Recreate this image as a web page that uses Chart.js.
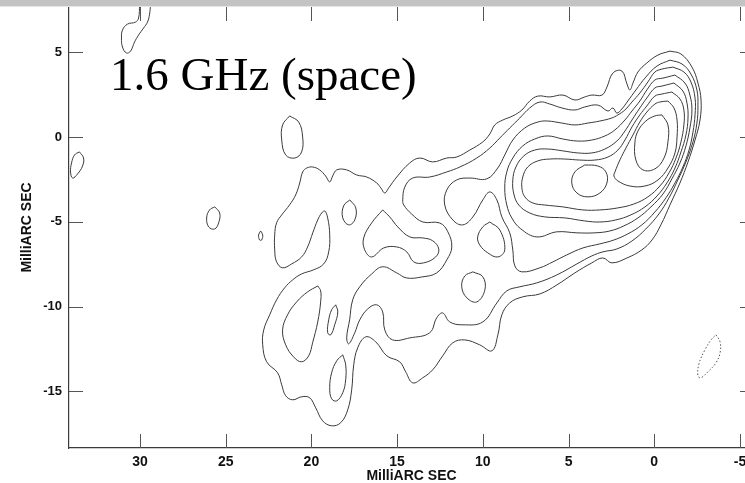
<!DOCTYPE html>
<html>
<head>
<meta charset="utf-8">
<script src="https://cdn.jsdelivr.net/npm/chart.js@4.4.1/dist/chart.umd.min.js"></script>
<style>
  html, body { margin: 0; padding: 0; background: #fff; overflow: hidden; }
  #wrap { position: relative; width: 760px; height: 483px; }
</style>
</head>
<body>
<div id="wrap"><canvas id="map" width="760" height="483"></canvas></div>
<script>
// axis extents (milliarcsec); RA runs right-to-left
const xMin = -5.82, xMax = 34.14;
const yMin = -18.33, yMax = 7.66;
const xTickValues = [30, 25, 20, 15, 10, 5, 0, -5];
const yTickValues = [5, 0, -5, -10, -15];
const axisTitle = 'MilliARC SEC';
const mapLabel = '1.6 GHz (space)';

// contour paths, [RA offset, Dec offset] in mas
const outerContour = [[-0.92,5.06],[-0.22,4.83],[0.43,4.36],[0.95,3.83],[1.24,3.18],[1.42,2.77],[1.59,3.12],[1.89,3.89],[2.41,3.77],[2.76,2.94],[3.05,2.47],[3.64,2.47],[4.05,2.36],[4.63,2.18],[5.33,2.47],[6.09,2.36],[6.79,2.41],[7.26,2.12],[7.72,1.59],[8.25,1.24],[8.83,1.0],[9.30,0.71],[9.59,0.18],[10.0,-0.29],[10.76,-0.77],[11.52,-1.18],[12.10,-1.24],[12.92,-1.47],[13.68,-1.24],[14.26,-1.53],[15.02,-2.36],[15.49,-3.0],[15.72,-3.30],[15.95,-3.0],[16.19,-2.71],[16.77,-2.36],[17.36,-2.24],[17.94,-1.94],[18.52,-1.94],[18.76,-2.30],[18.93,-2.65],[19.17,-2.30],[19.52,-1.94],[19.92,-1.77],[20.27,-1.83],[20.51,-2.06],[20.68,-2.71],[20.92,-3.42],[21.27,-4.0],[21.73,-4.59],[22.03,-5.06],[22.14,-5.77],[22.14,-6.65],[22.03,-7.36],[21.68,-7.71],[21.15,-7.48],[20.57,-7.07],[20.22,-6.48],[19.92,-5.65],[19.63,-4.89],[19.40,-4.48],[19.22,-4.36],[19.05,-4.77],[18.93,-5.77],[18.99,-6.77],[19.28,-7.48],[19.87,-7.83],[20.57,-8.07],[21.09,-8.42],[21.56,-8.89],[22.03,-9.60],[22.43,-10.48],[22.78,-11.37],[22.84,-12.25],[22.61,-13.25],[21.97,-13.90],[21.73,-14.61],[21.50,-15.25],[21.09,-15.49],[20.57,-15.31],[20.10,-15.37],[19.75,-15.96],[19.34,-16.73],[18.82,-17.02],[18.29,-16.84],[17.88,-16.08],[17.65,-14.90],[17.53,-13.43],[17.30,-12.43],[16.83,-11.78],[16.25,-12.07],[15.60,-12.90],[14.85,-13.25],[14.50,-13.84],[14.09,-14.49],[13.50,-14.19],[12.92,-13.72],[12.34,-12.90],[11.75,-12.13],[11.05,-11.96],[10.18,-12.25],[9.47,-12.60],[9.12,-11.66],[8.89,-10.48],[8.43,-9.78],[7.67,-9.42],[6.67,-9.25],[5.68,-8.72],[4.63,-8.01],[3.64,-7.42],[3.0,-7.13],[2.47,-7.42],[1.59,-7.13],[0.72,-6.65],[0.13,-6.07],[-0.39,-5.18],[-0.92,-4.0],[-1.50,-2.71],[-1.97,-1.47],[-2.38,-0.18],[-2.67,1.0],[-2.73,2.18],[-2.55,3.18],[-2.20,4.12],[-1.56,4.89],[-0.92,5.06]];

const secondContour = [[-0.92,4.53],[-0.16,4.18],[0.49,3.53],[1.07,2.77],[1.54,2.12],[1.89,1.65],[2.18,1.41],[2.41,1.71],[2.70,1.53],[3.29,1.88],[4.05,1.77],[4.63,1.59],[5.39,1.71],[6.09,1.94],[6.67,2.06],[7.26,1.71],[7.84,1.12],[8.43,0.53],[9.01,-0.06],[9.59,-0.65],[10.35,-1.24],[11.34,-1.77],[12.10,-2.06],[13.10,-2.36],[14.09,-2.42],[14.55,-2.95],[14.67,-3.71],[14.61,-4.01],[14.15,-4.54],[13.50,-5.01],[12.51,-5.07],[12.04,-5.59],[11.81,-6.48],[12.10,-7.24],[12.69,-8.01],[13.56,-8.25],[14.44,-8.31],[15.02,-8.01],[15.84,-7.65],[16.48,-8.07],[17.18,-8.83],[17.59,-9.60],[17.77,-10.78],[17.94,-11.84],[17.82,-12.19],[17.47,-11.54],[17.18,-10.78],[16.71,-10.13],[16.19,-9.89],[15.84,-10.31],[15.72,-11.37],[15.26,-11.96],[14.26,-11.84],[13.10,-11.54],[12.69,-10.66],[12.34,-10.37],[11.93,-10.90],[11.17,-11.07],[10.0,-10.90],[9.18,-9.78],[8.60,-9.07],[7.84,-8.83],[6.85,-8.60],[5.68,-8.13],[4.51,-7.48],[3.64,-7.01],[2.99,-6.77],[2.18,-6.60],[1.30,-6.13],[0.49,-5.42],[-0.27,-4.54],[-0.86,-3.59],[-1.38,-2.53],[-1.85,-1.47],[-2.26,-0.29],[-2.49,0.82],[-2.55,1.83],[-2.49,2.77],[-2.14,3.71],[-1.62,4.30],[-0.92,4.53]];

const thirdContour = [[-1.09,4.12],[-0.45,4.00],[-0.04,3.83],[0.37,3.24],[0.84,2.59],[1.30,2.06],[1.71,1.59],[2.12,1.30],[2.47,1.12],[3.17,0.94],[3.87,0.82],[4.63,0.71],[5.39,0.82],[6.21,0.94],[6.79,0.88],[7.55,0.53],[8.25,-0.18],[8.72,-1.06],[9.13,-1.83],[9.77,-2.47],[10.76,-2.42],[11.52,-2.53],[12.10,-3.12],[12.22,-4.01],[11.75,-4.89],[11.17,-5.18],[10.58,-4.71],[10.0,-3.71],[9.59,-3.24],[9.18,-3.71],[8.89,-4.71],[8.43,-5.65],[8.25,-6.66],[8.13,-7.60],[7.72,-7.95],[6.67,-7.71],[5.91,-7.36],[5.10,-6.95],[4.16,-6.54],[3.17,-6.30],[2.35,-6.07],[1.54,-5.71],[0.72,-5.18],[-0.04,-4.42],[-0.68,-3.59],[-1.21,-2.71],[-1.67,-1.77],[-2.03,-0.77],[-2.26,0.29],[-2.38,1.30],[-2.38,2.30],[-2.14,3.24],[-1.73,3.83],[-1.09,4.12]];

const fourthContour = [[-1.21,3.65],[-0.51,3.47],[-0.04,3.36],[0.43,2.77],[0.84,2.12],[1.30,1.53],[1.71,1.0],[2.30,0.41],[2.88,0.06],[3.64,-0.18],[4.46,-0.24],[5.33,-0.12],[6.21,0.06],[6.97,-0.12],[7.67,-0.53],[8.25,-1.24],[8.60,-2.06],[8.72,-3.0],[8.60,-4.01],[8.31,-4.77],[7.78,-5.42],[6.85,-5.89],[5.68,-5.59],[4.51,-5.65],[3.46,-5.65],[2.59,-5.54],[1.77,-5.24],[0.95,-4.77],[0.19,-4.12],[-0.51,-3.36],[-1.03,-2.47],[-1.50,-1.53],[-1.85,-0.53],[-2.08,0.53],[-2.20,1.59],[-2.08,2.47],[-1.79,3.18],[-1.21,3.65]];

const fifthContour = [[-1.15,3.18],[-0.45,3.0],[-0.04,2.89],[0.43,2.30],[0.84,1.71],[1.30,1.0],[1.71,0.35],[2.18,-0.24],[2.88,-0.71],[3.64,-0.94],[4.46,-0.94],[5.33,-0.82],[6.21,-0.71],[6.97,-0.77],[7.61,-1.12],[8.07,-1.77],[8.25,-2.53],[8.19,-3.36],[7.90,-4.01],[7.26,-4.48],[6.38,-4.71],[5.21,-4.77],[4.05,-4.95],[3.17,-5.01],[2.24,-4.89],[1.36,-4.59],[0.54,-4.12],[-0.16,-3.48],[-0.74,-2.71],[-1.21,-1.83],[-1.56,-0.88],[-1.85,0.12],[-1.97,1.12],[-1.91,2.0],[-1.67,2.71],[-1.15,3.18]];

const sixthContour = [[-1.03,2.65],[-0.45,2.53],[-0.04,2.41],[0.43,1.83],[0.84,1.30],[1.30,0.59],[1.71,-0.18],[2.12,-0.77],[2.70,-1.18],[3.46,-1.36],[4.34,-1.36],[5.21,-1.30],[6.09,-1.30],[6.79,-1.41],[7.38,-1.77],[7.67,-2.36],[7.72,-3.0],[7.55,-3.53],[7.08,-3.89],[6.38,-4.01],[5.33,-4.12],[4.16,-4.30],[3.17,-4.30],[2.12,-4.18],[1.19,-3.95],[0.37,-3.53],[-0.33,-2.89],[-0.86,-2.12],[-1.27,-1.24],[-1.56,-0.29],[-1.73,0.71],[-1.73,1.59],[-1.50,2.24],[-1.03,2.65]];

const knotContour = [[4.05,-1.65],[3.29,-1.71],[2.82,-2.06],[2.76,-2.71],[3.17,-3.30],[3.87,-3.53],[4.51,-3.30],[4.81,-2.71],[4.63,-2.06],[4.05,-1.65]];

const seventhContour = [[-0.80,2.12],[-0.33,2.06],[-0.04,1.94],[0.43,1.47],[0.84,0.88],[1.24,0.12],[1.65,-0.65],[2.0,-1.35],[2.29,-2.06],[2.35,-2.30],[2.12,-2.59],[1.42,-2.89],[0.54,-2.89],[-0.22,-2.53],[-0.80,-1.83],[-1.21,-0.94],[-1.33,0.0],[-1.33,1.0],[-1.15,1.71],[-0.80,2.12]];

const peakContour = [[-0.45,1.30],[-0.80,0.71],[-0.80,-0.29],[-0.57,-1.24],[-0.04,-1.88],[0.66,-1.94],[1.07,-1.36],[1.13,-0.35],[0.95,0.35],[0.49,0.94],[-0.04,1.24],[-0.45,1.30]];

// isolated patches
const northPatch = [[30.02,7.8],[30.08,7.01],[30.26,6.77],[30.73,6.65],[31.02,6.30],[31.08,5.83],[31.02,5.30],[30.79,4.95],[30.55,5.06],[30.32,5.59],[30.08,6.01],[29.79,6.42],[29.56,6.77],[29.44,7.24],[29.38,7.8]];
const westPatch = [[33.53,-0.88],[33.29,-1.24],[33.35,-1.71],[33.64,-2.18],[33.93,-2.42],[34.05,-2.06],[33.99,-1.53],[33.82,-1.06],[33.53,-0.88]];
const patch25 = [[25.64,-4.12],[25.35,-4.48],[25.41,-5.06],[25.64,-5.42],[25.99,-5.30],[26.11,-4.77],[25.94,-4.30],[25.64,-4.12]];
const speck23 = [[22.96,-5.54],[22.84,-5.77],[22.90,-6.07],[23.02,-6.07],[23.08,-5.77],[22.96,-5.54]];
const patch21 = [[21.27,1.24],[20.74,0.88],[20.51,0.0],[20.57,-0.88],[20.97,-1.24],[21.50,-1.06],[21.73,-0.18],[21.68,0.71],[21.27,1.24]];
const hole18 = [[17.76,-3.71],[17.41,-4.18],[17.47,-4.89],[17.82,-5.18],[18.17,-4.77],[18.12,-4.06],[17.76,-3.71]];
const lobeSouthA = [[19.63,-8.78],[20.22,-9.13],[20.86,-9.72],[21.39,-10.48],[21.68,-11.37],[21.50,-12.25],[21.04,-12.96],[20.57,-13.25],[20.16,-12.90],[19.93,-12.13],[19.63,-10.90],[19.46,-9.72],[19.46,-9.07],[19.63,-8.78]];
const lobeSouthB = [[18.58,-9.89],[18.46,-10.31],[18.64,-11.07],[18.87,-11.66],[19.05,-11.54],[18.99,-10.78],[18.82,-10.19],[18.58,-9.89]];
const lobeSouthC = [[18.17,-12.84],[18.0,-13.43],[18.0,-14.31],[18.17,-15.07],[18.52,-15.55],[18.82,-15.43],[18.93,-14.78],[18.82,-13.90],[18.52,-13.19],[18.17,-12.84]];
const jetPatch14 = [[15.84,-4.30],[15.43,-4.71],[14.96,-5.30],[14.26,-5.89],[13.50,-5.95],[12.92,-6.12],[12.57,-6.60],[12.75,-7.07],[13.45,-7.42],[14.03,-7.36],[14.44,-6.77],[15.02,-6.48],[15.78,-6.54],[16.48,-7.07],[16.89,-6.65],[16.95,-5.95],[16.48,-5.06],[15.84,-4.30]];
const jetPatch9 = [[9.59,-5.01],[9.01,-5.48],[8.72,-6.65],[9.12,-7.07],[9.71,-6.83],[10.18,-6.36],[10.30,-5.89],[10.0,-5.30],[9.59,-5.01]];
const jetPatch10 = [[10.58,-7.95],[10.0,-8.24],[9.88,-9.01],[10.35,-9.72],[10.93,-9.48],[11.23,-8.83],[11.05,-8.19],[10.58,-7.95]];

// negative level
const negativeContour = [[-3.6,-11.66],[-3.84,-12.07],[-3.84,-12.72],[-3.6,-13.31],[-3.13,-13.84],[-2.72,-14.19],[-2.55,-14.08],[-2.61,-13.37],[-2.96,-12.54],[-3.31,-11.96],[-3.6,-11.66]];

const solidContours = [
  outerContour, secondContour, thirdContour, fourthContour, fifthContour,
  sixthContour, knotContour, seventhContour, peakContour,
  northPatch, westPatch, patch25, speck23, patch21, hole18,
  lobeSouthA, lobeSouthB, lobeSouthC, jetPatch14, jetPatch9, jetPatch10
];

const lineOf = (pts, dashed) => ({
  data: pts.map(([x, y]) => ({ x, y })),
  showLine: true,
  borderColor: dashed ? '#555' : '#3a3a3a',
  borderWidth: 1,
  borderDash: dashed ? [1.5, 2] : [],
  pointRadius: 0,
  tension: 0.4,
  fill: false
});

const datasets = solidContours.map(p => lineOf(p, false));
datasets.push(lineOf(negativeContour, true));

const labelFont = { family: '"Liberation Sans", Arial, sans-serif', weight: 'bold' };

// keep the plot frame exactly where the scales put it (no label overhang padding)
const noOverhang = s => { s.paddingTop = 0; s.paddingBottom = 0; s.paddingLeft = 0; s.paddingRight = 0; };

// inward tick marks on all four sides, the strip above the frame and the band label
const frameMarks = {
  id: 'frameMarks',
  afterDatasetsDraw(chart) {
    const { ctx, chartArea: a } = chart;
    ctx.save();
    ctx.fillStyle = '#000';
    ctx.font = '47px "Liberation Serif", "Times New Roman", serif';
    ctx.textBaseline = 'alphabetic';
    ctx.fillText(mapLabel, a.left + 41, a.top + 83);
    ctx.restore();
  },
  afterDraw(chart) {
    const { ctx, chartArea: a, scales: { x, y } } = chart;
    ctx.save();
    ctx.strokeStyle = '#555';
    ctx.lineWidth = 1;
    ctx.beginPath();
    xTickValues.forEach(v => {
      const px = Math.round(x.getPixelForValue(v)) + 0.5;
      ctx.moveTo(px, a.bottom); ctx.lineTo(px, a.bottom - 14);
      ctx.moveTo(px, a.top); ctx.lineTo(px, a.top + 14);
    });
    yTickValues.forEach(v => {
      const py = Math.round(y.getPixelForValue(v)) + 0.5;
      ctx.moveTo(a.left, py); ctx.lineTo(a.left + 14, py);
      ctx.moveTo(a.right, py); ctx.lineTo(a.right - 14, py);
    });
    ctx.stroke();
    ctx.fillStyle = '#c3c3c3';
    ctx.fillRect(0, 0, chart.width, 6);
    ctx.fillStyle = '#e6e6e6';
    ctx.fillRect(0, 6, chart.width, 1);
    ctx.restore();
  }
};

new Chart(document.getElementById('map'), {
  type: 'scatter',
  data: { datasets },
  options: {
    responsive: false,
    animation: false,
    events: [],
    layout: { padding: { left: 0, top: 7, right: 6, bottom: 0 } },
    plugins: { legend: { display: false }, tooltip: { enabled: false } },
    scales: {
      x: {
        type: 'linear',
        position: 'bottom',
        reverse: true,
        min: xMin,
        max: xMax,
        afterBuildTicks: s => { s.ticks = xTickValues.map(v => ({ value: v })); },
        afterFit: s => { s.height = 35; noOverhang(s); },
        ticks: { font: { ...labelFont, size: 14 }, color: '#111', padding: 6, maxRotation: 0, autoSkip: false, callback: v => v },
        grid: { display: false, drawTicks: false },
        border: { display: true, color: '#3c3c3c', width: 1.2 },
        title: { display: true, text: axisTitle, font: { ...labelFont, size: 14 }, color: '#111', padding: { top: 0, bottom: -2 } }
      },
      y: {
        type: 'linear',
        position: 'left',
        min: yMin,
        max: yMax,
        afterBuildTicks: s => { s.ticks = yTickValues.map(v => ({ value: v })); },
        afterFit: s => { s.width = 69; noOverhang(s); },
        ticks: { font: { ...labelFont, size: 13 }, color: '#111', padding: 7, autoSkip: false, callback: v => v },
        grid: { display: false, drawTicks: false },
        border: { display: true, color: '#3c3c3c', width: 1.2 },
        title: { display: true, text: axisTitle, font: { ...labelFont, size: 14 }, color: '#111', padding: { top: 19, bottom: 0 } }
      }
    }
  },
  plugins: [frameMarks]
});
</script>
</body>
</html>
